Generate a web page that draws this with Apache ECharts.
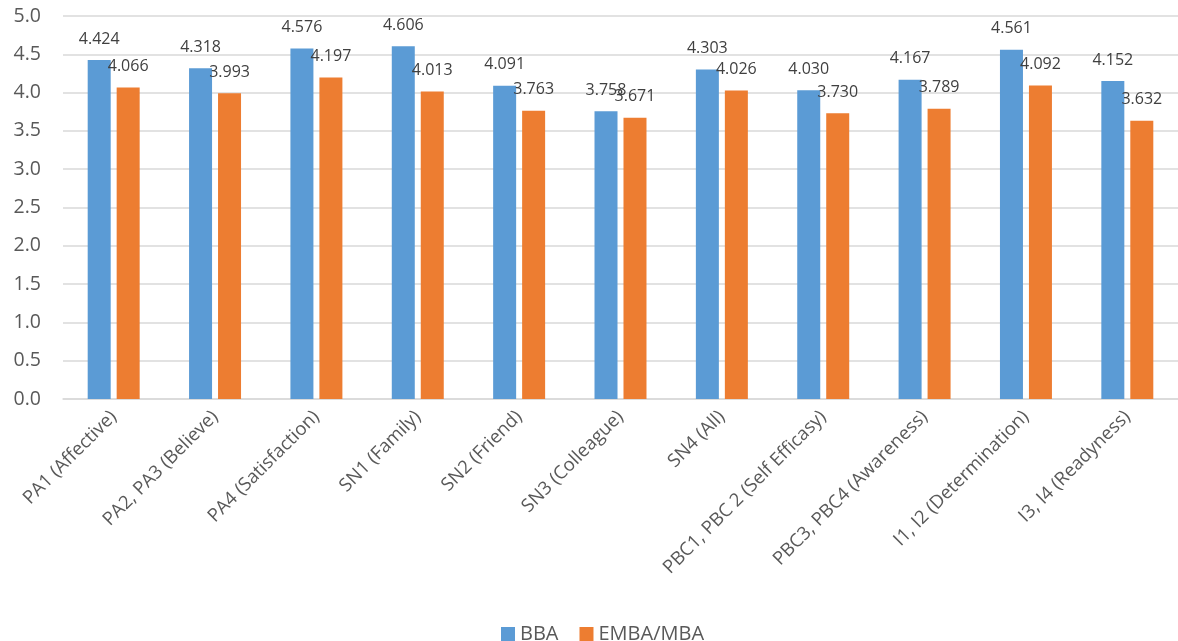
<!DOCTYPE html>
<html>
<head>
<meta charset="utf-8">
<script src="https://cdn.jsdelivr.net/npm/echarts@6/dist/echarts.min.js"></script>
<style>
  html, body { margin: 0; padding: 0; background: #fff; }
  #chart { width: 1178px; height: 641px; }
</style>
</head>
<body>
<div id="chart"></div>
<script>
// Survey construct means by programme
const categories = [
  'PA1 (Affective)', 'PA2, PA3 (Believe)', 'PA4 (Satisfaction)', 'SN1 (Family)',
  'SN2 (Friend)', 'SN3 (Colleague)', 'SN4 (All)', 'PBC1, PBC 2 (Self Efficasy)',
  'PBC3, PBC4 (Awareness)', 'I1, I2 (Determination)', 'I3, I4 (Readyness)'
];
const bbaValues  = [4.424, 4.318, 4.576, 4.606, 4.091, 3.758, 4.303, 4.030, 4.167, 4.561, 4.152];
const embaValues = [4.066, 3.993, 4.197, 4.013, 3.763, 3.671, 4.026, 3.730, 3.789, 4.092, 3.632];
const seriesNames = ['BBA', 'EMBA/MBA'];

const FONT = '"Open Sans", "Noto Sans", sans-serif';

const chart = echarts.init(document.getElementById('chart'), null, { renderer: 'canvas' });

const barLabel = {
  show: true,
  position: 'top',
  distance: 13,
  color: '#404040',
  fontFamily: FONT,
  fontSize: 16,
  formatter: p => p.value.toFixed(3)
};

chart.setOption({
  animation: false,
  grid: { left: 63, right: -7, top: 16, bottom: 242, containLabel: false },
  legend: {
    data: seriesNames,
    left: 496,
    top: 619,
    icon: 'rect',
    itemWidth: 14,
    itemHeight: 14,
    itemGap: 21,
    textStyle: { color: '#595959', fontFamily: FONT, fontSize: 20 }
  },
  xAxis: {
    type: 'category',
    data: categories,
    axisLine: { lineStyle: { color: '#D9D9D9', width: 1.5 } },
    axisTick: { show: false },
    axisLabel: {
      rotate: 45,
      interval: 0,
      margin: 15,
      color: '#595959',
      fontFamily: FONT,
      fontSize: 18.5
    }
  },
  yAxis: {
    type: 'value',
    min: 0,
    max: 5,
    interval: 0.5,
    axisLine: { show: false },
    axisTick: { show: false },
    splitLine: { lineStyle: { color: '#D9D9D9', width: 1.5 } },
    axisLabel: {
      margin: 22,
      color: '#595959',
      fontFamily: FONT,
      fontSize: 19.5,
      formatter: v => v.toFixed(1)
    }
  },
  series: [
    {
      name: seriesNames[0],
      type: 'bar',
      data: bbaValues,
      barWidth: 23,
      barGap: '26%',
      itemStyle: { color: '#5B9BD5' },
      label: barLabel
    },
    {
      name: seriesNames[1],
      type: 'bar',
      data: embaValues,
      barWidth: 23,
      barGap: '26%',
      itemStyle: { color: '#ED7D31' },
      label: barLabel
    }
  ]
});
</script>
</body>
</html>
